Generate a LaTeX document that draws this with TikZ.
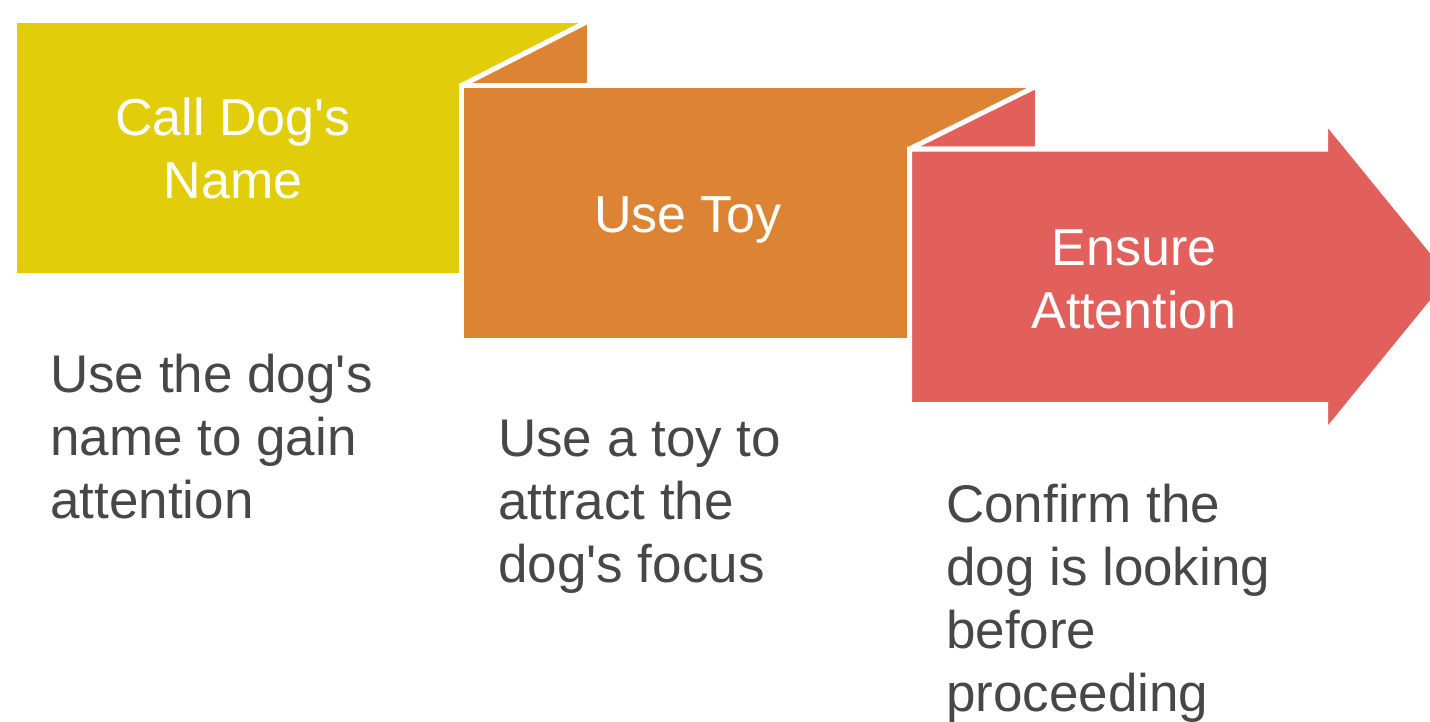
\documentclass[tikz,border=0pt]{standalone}
\usepackage{fontspec}
\setmainfont{Liberation Sans}[Ligatures=TeXOff]
\definecolor{cy}{HTML}{E2CD0A}
\definecolor{co}{HTML}{DC8433}
\definecolor{cr}{HTML}{E2605B}
\definecolor{txt}{HTML}{474747}
\begin{document}
\begin{tikzpicture}[x=1pt,y=-1pt,
  panel/.style={draw=white,line width=5pt,line join=miter,miter limit=2},
  title/.style={text=white,font=\fontsize{52}{63}\selectfont,align=center,inner sep=0pt,anchor=base},
  desc/.style={text=txt,font=\fontsize{53}{63}\selectfont,align=left,inner sep=0pt,anchor=base west}]
\useasboundingbox (0,0) rectangle (1430,721);
\begin{scope}
\clip (0,0) rectangle (1430,721);
% yellow panel
\path[panel,fill=cy] (14.5,20.5) rectangle (589.5,275.5);
% orange fold and panel
\path[panel,fill=co] (461.5,85.5) -- (589.5,20.5) -- (589.5,85.5) -- cycle;
\path[panel,fill=co] (461.5,85.5) rectangle (1037.5,340.5);
% red fold and arrow
\path[panel,fill=cr] (909.5,149) -- (1037.5,85.5) -- (1037.5,149) -- cycle;
\path[panel,fill=cr] (909.5,149) -- (1325.5,149) -- (1325.5,121) -- (1452.5,276.75)
  -- (1325.5,432.5) -- (1325.5,404.5) -- (909.5,404.5) -- cycle;
\end{scope}
\node[title] (t1) at (233,198) {Call Dog's\\Name};
\node[title] (t2) at (688,232) {Use Toy};
\node[title] (t3) at (1134,328) {Ensure\\Attention};
\node[desc] (d1) at (50,518) {Use the dog's\\name to gain\\attention};
\node[desc] (d2) at (498,582) {Use a toy to\\attract the\\dog's focus};
\node[desc] (d3) at (946,711) {Confirm the\\dog is looking\\before\\proceeding};
\end{tikzpicture}
\end{document}
